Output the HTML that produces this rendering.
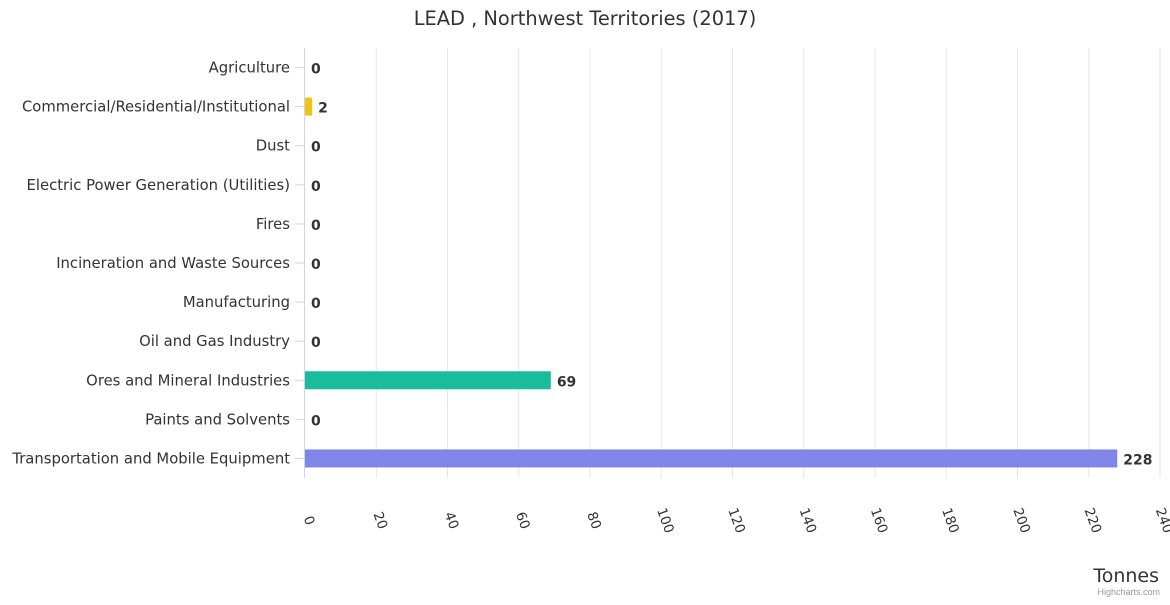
<!DOCTYPE html>
<html><head><meta charset="utf-8"><style>
body{margin:0;background:#fff;font-family:"Liberation Sans","DejaVu Sans",sans-serif}
</style></head><body>
<svg id="c" width="1170" height="600" xmlns="http://www.w3.org/2000/svg">
<text x="585" y="25" text-anchor="middle" font-size="19.4" fill="#333" font-family="DejaVu Sans, sans-serif">LEAD , Northwest Territories (2017)</text>
<g id="grid"></g><g id="bars"></g><g id="ylab"></g><g id="xlab"></g>
<text x="1159" y="582" text-anchor="end" font-size="19" fill="#333" font-family="DejaVu Sans, sans-serif">Tonnes</text>
<text x="1160" y="595" text-anchor="end" font-size="9" fill="#999">Highcharts.com</text>
</svg>
<script>
const categories=["Agriculture","Commercial/Residential/Institutional","Dust","Electric Power Generation (Utilities)","Fires","Incineration and Waste Sources","Manufacturing","Oil and Gas Industry","Ores and Mineral Industries","Paints and Solvents","Transportation and Mobile Equipment"];
const values=[0,2,0,0,0,0,0,0,69,0,228];
const colors=["#7cb5ec","#f1c40f","#7cb5ec","#7cb5ec","#7cb5ec","#7cb5ec","#7cb5ec","#7cb5ec","#1abc9c","#7cb5ec","#8085e9"];
const ticks=[0,20,40,60,80,100,120,140,160,180,200,220,240];
const NS="http://www.w3.org/2000/svg";
const x0=305,x1=1160,yTop=48,yBot=478;
const xs=v=>x0+v/240*(x1-x0);
const band=(yBot-yTop)/categories.length;
const yc=i=>yTop+band*(i+0.5);
function mk(t,a,p){const e=document.createElementNS(NS,t);for(const k in a)e.setAttribute(k,a[k]);p.appendChild(e);return e;}
const G=document.getElementById('grid'),B=document.getElementById('bars'),YL=document.getElementById('ylab'),XL=document.getElementById('xlab');
ticks.forEach(t=>{
 if(t>0){const l=mk('line',{x1:xs(t),x2:xs(t),y1:yTop,y2:yBot,stroke:'#e6e6e6'},G);
 
 }
 const x=xs(t),y=522;
 const tx=mk('text',{x:x,y:y,'text-anchor':'middle','font-size':13.5,fill:'#333','font-family':'DejaVu Sans, sans-serif',transform:`rotate(70 ${x} ${y})`},XL);
 tx.textContent=t;
 
 
});
const ax=mk('line',{x1:x0-0.5,x2:x0-0.5,y1:yTop,y2:yBot,stroke:'#ccd6eb'},G);


categories.forEach((c,i)=>{
 const y=yc(i);
 const tk=mk('line',{x1:x0-10,x2:x0,y1:y,y2:y,stroke:'#ccd6eb'},G);
 
 
 const t=mk('text',{x:290,y:y+5,'text-anchor':'end','font-size':14.8,fill:'#333','font-family':'DejaVu Sans, sans-serif'},YL);
 t.textContent=c;
 
 
 const w=xs(values[i])-x0;
 if(w>0){const r=mk('rect',{x:x0,y:y-9,width:w,height:18,fill:colors[i]},B);
 
 }
 const v=mk('text',{x:x0+w+6,y:y+6,'font-size':14,'font-weight':'bold',fill:'#333','font-family':'DejaVu Sans, sans-serif'},B);
 v.textContent=values[i];
 
 
});
</script>
</body></html>
